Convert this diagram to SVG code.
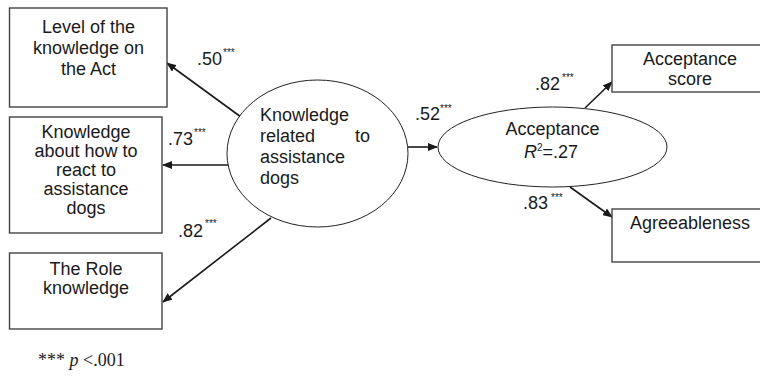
<svg xmlns="http://www.w3.org/2000/svg" width="760" height="386" viewBox="0 0 760 386">
<defs>
<marker id="ah" markerWidth="10" markerHeight="8" refX="9" refY="4" orient="auto" markerUnits="userSpaceOnUse">
<path d="M0,0 L10,4 L0,8 Z" fill="#1a1a1a"/>
</marker>
<style>
.box{fill:#fff;stroke:#444;stroke-width:1.4}
.ell{fill:#fff;stroke:#222;stroke-width:1}
.t{font-family:"Liberation Sans",Arial,sans-serif;font-size:18px;fill:#1a1a1a}
.c{text-anchor:middle}
.s{font-family:"Liberation Sans",Arial,sans-serif;font-size:10px;fill:#1a1a1a}
.e{stroke:#1a1a1a;stroke-width:1.6;fill:none;marker-end:url(#ah)}
</style>
</defs>
<rect width="760" height="386" fill="#fff"/>
<g id="connectors">
<line class="e" x1="241" y1="117" x2="167" y2="63"/>
<line class="e" x1="231" y1="165" x2="163" y2="165"/>
<line class="e" x1="271" y1="218" x2="163" y2="302"/>
<line class="e" x1="408" y1="147" x2="437" y2="147"/>
<line class="e" x1="585" y1="108" x2="612" y2="82"/>
<line class="e" x1="570" y1="187" x2="612" y2="217"/>
<text class="t" x="197" y="65">.50</text><text class="s" x="223" y="56">***</text>
<text class="t" x="168" y="145">.73</text><text class="s" x="194" y="136">***</text>
<text class="t" x="178" y="237">.82</text><text class="s" x="205" y="227">***</text>
<text class="t" x="415" y="120">.52</text><text class="s" x="440" y="112">***</text>
<text class="t" x="535" y="90">.82</text><text class="s" x="562" y="81">***</text>
<text class="t" x="523" y="209">.83</text><text class="s" x="551" y="201">***</text>
</g>
<g id="level">
<rect class="box" x="9.5" y="8" width="157.5" height="99"/>
<text class="t c" x="88.5" y="33">Level of the</text>
<text class="t c" x="88.5" y="54">knowledge on</text>
<text class="t c" x="88.5" y="75">the Act</text>
</g>
<g id="react">
<rect class="box" x="9.5" y="117" width="152.5" height="116"/>
<text class="t c" x="86" y="138">Knowledge</text>
<text class="t c" x="86" y="157">about how to</text>
<text class="t c" x="86" y="176">react to</text>
<text class="t c" x="86" y="195">assistance</text>
<text class="t c" x="86" y="214">dogs</text>
</g>
<g id="role">
<rect class="box" x="9.5" y="253" width="152.5" height="76"/>
<text class="t c" x="86" y="275">The Role</text>
<text class="t c" x="86" y="294">knowledge</text>
</g>
<g id="knowledge">
<ellipse class="ell" cx="317.5" cy="153.5" rx="90.5" ry="73.5"/>
<text class="t" x="260" y="121">Knowledge</text>
<text class="t" x="260" y="142">related</text>
<text class="t" x="355" y="142">to</text>
<text class="t" x="260" y="163">assistance</text>
<text class="t" x="260" y="184">dogs</text>
</g>
<g id="acceptance">
<ellipse class="ell" cx="552.5" cy="147" rx="114.5" ry="40"/>
<text class="t c" x="552.5" y="135">Acceptance</text>
<text class="t" x="524" y="158"><tspan font-style="italic">R</tspan><tspan font-size="10" dy="-7">2</tspan><tspan dy="7">=.27</tspan></text>
</g>
<g id="score">
<rect class="box" x="612" y="45" width="160" height="47"/>
<text class="t c" x="690" y="65">Acceptance</text>
<text class="t c" x="690" y="85">score</text>
</g>
<g id="agree">
<rect class="box" x="612" y="209" width="160" height="53"/>
<text class="t c" x="690" y="229">Agreeableness</text>
</g>
<text x="38" y="366" font-family="Liberation Serif,'Times New Roman',serif" font-size="18" fill="#1a1a1a">*** <tspan font-style="italic">p</tspan> &lt;.001</text>
</svg>
